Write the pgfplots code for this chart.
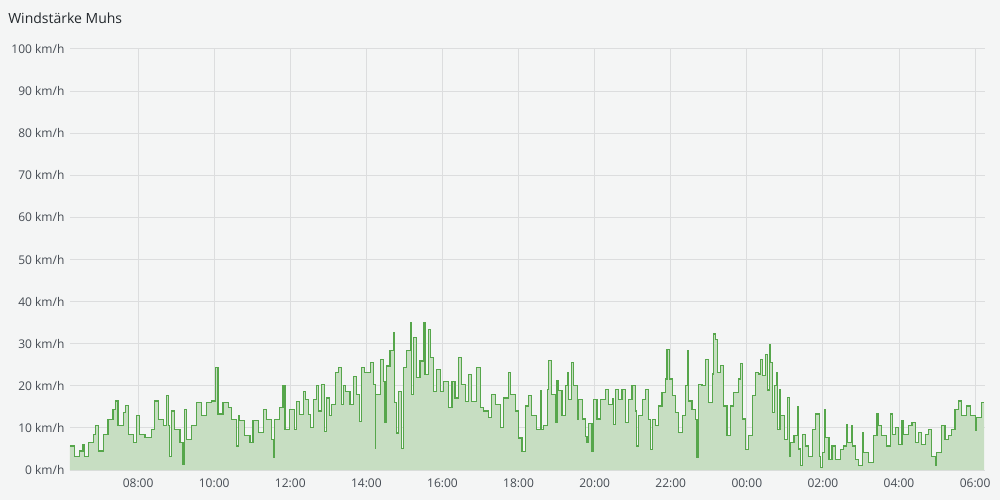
\documentclass[border=0pt]{standalone}
\usepackage{fontspec}
\setmainfont{Open Sans}
\usepackage{pgfplots}
\usepackage{pgfplotstable}
\pgfplotsset{compat=1.18}
\definecolor{bgcol}{HTML}{F4F5F5}
\definecolor{gridcol}{HTML}{DCDDDE}
\definecolor{linegreen}{HTML}{56A64B}
\definecolor{areagreen}{HTML}{C7DEC2}
\definecolor{tickcol}{HTML}{464C54}
\definecolor{titlecol}{HTML}{24292E}

% hours since midnight of day 1 (24 = 00:00 next day), wind in km/h
\pgfplotstableread{
h v
6.20 5.7
6.33 3.3
6.47 4.5
6.55 6
6.60 3.3
6.69 6.5
6.82 8.5
6.88 10.5
6.95 4.5
7.08 8.5
7.21 12
7.34 14.4
7.40 16.4
7.47 10.5
7.61 13.6
7.68 15.4
7.74 8.5
7.87 6.5
7.96 12.9
8.04 8.5
8.18 7.7
8.35 9.7
8.44 16.4
8.53 12
8.66 10.5
8.74 17.6
8.79 10.5
8.83 3.3
8.88 14
8.96 9.7
9.10 6.5
9.18 1.3
9.23 14.4
9.27 7.3
9.40 10.5
9.53 16
9.67 12.9
9.80 16
9.93 16.4
10.03 24.4
10.10 13.3
10.23 16
10.37 14.8
10.45 12
10.59 5.7
10.63 12.9
10.67 11.7
10.80 8.1
10.94 6.5
11.02 11.7
11.16 9
11.29 14.4
11.37 12
11.51 7.3
11.55 2.9
11.59 12
11.72 14.8
11.81 20
11.86 9.7
11.99 14.4
12.12 9.7
12.17 16.3
12.25 13.2
12.34 18.7
12.40 16.7
12.47 13.2
12.54 10
12.61 16.7
12.69 20
12.74 14
12.82 20.3
12.91 9.2
12.96 17.1
13.03 13
13.09 15.6
13.18 23.1
13.26 24.3
13.35 15.6
13.40 20
13.44 18.7
13.57 15.6
13.66 22.3
13.75 18
13.83 11.6
13.88 24.3
13.96 23.1
14.10 25.5
14.18 20.3
14.23 5.2
14.25 17.9
14.36 26.3
14.45 21.1
14.49 11.2
14.54 24.7
14.62 28.3
14.71 32.6
14.75 16
14.80 8.8
14.84 18.7
14.93 5.2
14.97 24.3
15.06 28.3
15.15 35
15.18 17.9
15.24 31.4
15.32 21.9
15.41 25.9
15.50 35
15.54 22.7
15.63 33.4
15.68 26.7
15.76 18.7
15.85 23.9
15.94 18.7
16.03 21.1
16.16 14.8
16.25 21.1
16.33 17.1
16.42 26.7
16.51 20.3
16.60 16.3
16.68 22.7
16.77 16.3
16.90 24.3
16.99 14.8
17.08 14
17.21 12.4
17.30 17.9
17.39 15.6
17.52 10
17.61 17.1
17.74 23.1
17.78 17.9
17.91 14
18.00 7.6
18.09 4.4
18.18 15.2
18.26 17.6
18.35 12.9
18.48 9.7
18.57 18.8
18.60 9.7
18.66 10.5
18.75 19.2
18.79 26
18.86 18
18.96 11.3
19.01 21.2
19.05 18.8
19.14 12.9
19.23 20
19.30 23.2
19.32 16.8
19.40 25.6
19.45 20
19.54 12
19.58 16.8
19.67 12.1
19.75 8
19.80 6.5
19.84 11
19.93 4.5
19.97 16.8
20.06 12.1
20.15 16.8
20.28 19.2
20.37 15.6
20.46 17
20.50 10.9
20.54 19.2
20.63 16.8
20.72 19.2
20.81 11.3
20.89 16.8
20.98 20
21.07 14
21.11 5.7
21.16 12.9
21.25 16.8
21.33 19.2
21.42 12
21.46 4.9
21.51 12
21.60 10.5
21.68 15.2
21.77 18.4
21.86 21.6
21.90 28.7
21.96 21.6
22.04 17.6
22.12 13.7
22.21 8.9
22.30 12.9
22.39 20
22.43 28.3
22.47 16.4
22.56 14.4
22.65 12
22.69 2.9
22.74 20.4
22.82 20
22.91 26.3
23.00 16
23.09 22.8
23.13 32.3
23.18 31.1
23.22 23.2
23.31 24.8
23.39 15.2
23.48 8.1
23.57 15.2
23.66 18.4
23.79 21.6
23.83 25.2
23.88 12.1
23.96 4.9
24.05 8.1
24.14 17.6
24.23 23.2
24.30 22.8
24.37 26.3
24.41 22.4
24.50 27.5
24.54 19
24.59 29.9
24.63 25.6
24.67 13.7
24.72 20
24.78 23.2
24.80 9.7
24.87 19.2
24.89 12.9
24.98 7.3
25.07 17.2
25.11 3.3
25.15 6.5
25.24 8.1
25.33 15.1
25.35 5
25.42 1
25.46 8.5
25.55 5.7
25.63 3.3
25.72 9.7
25.81 13.3
25.90 3.3
25.94 0.5
25.98 4.1
26.05 14.4
26.07 7.7
26.16 2.5
26.24 5.7
26.33 2.5
26.46 4.9
26.55 5.7
26.61 10.9
26.64 6.5
26.75 10.6
26.77 5.7
26.86 2.5
26.94 1
27.03 8.9
27.07 4.1
27.20 1.7
27.34 8.1
27.42 13.3
27.47 10.5
27.55 8.1
27.68 5.7
27.77 13.3
27.82 8.5
27.90 10.1
27.99 6
28.08 11.7
28.12 8.5
28.25 10.5
28.34 11.3
28.43 6.5
28.51 9
28.60 6
28.69 8.5
28.77 9.7
28.86 3.3
28.95 1
28.99 4.1
29.12 10.5
29.21 7.3
29.30 8.1
29.39 9.7
29.47 14.4
29.56 16.4
29.65 12.9
29.78 15.2
29.87 12.9
30.00 9.3
30.04 12.5
30.17 16
30.24 16
}\wind

\begin{document}
\begin{tikzpicture}
% 1px = 0.75pt, page is 1000x500 px
\fill[bgcol] (-52.5pt,-22.5pt) rectangle (697.5pt,352.5pt);
\useasboundingbox (-52.5pt,-22.5pt) rectangle (697.5pt,352.5pt);
\node[anchor=west, inner sep=0pt, text=titlecol, font=\fontsize{10.5}{12}\selectfont] at (-46.5pt,339pt) {Windstärke Muhs};
\begin{axis}[
    scale only axis,
    width=686.25pt, height=315.75pt,
    xmin=6.21, xmax=30.26,
    ymin=0, ymax=100,
    xtick={8,10,12,14,16,18,20,22,24,26,28,30},
    xticklabels={08:00,10:00,12:00,14:00,16:00,18:00,20:00,22:00,00:00,02:00,04:00,06:00},
    ytick={0,10,...,100},
    yticklabel={\pgfmathprintnumber{\tick} km/h},
    /pgf/number format/assume math mode=true,
    major tick length=0pt,
    axis line style={draw=none},
    grid=major,
    major grid style={gridcol, line width=0.75pt},
    tick label style={font=\fontsize{9}{10}\selectfont, text=tickcol},
    yticklabel style={inner sep=0pt, xshift=-4pt},
    xticklabel style={inner sep=0pt, yshift=-6.5pt},
]
\addplot[const plot, draw=none, fill=areagreen] table[x=h, y=v] {\wind} \closedcycle;
\addplot[const plot, draw=linegreen, line width=0.85pt] table[x=h, y=v] {\wind};
\end{axis}
\end{tikzpicture}
\end{document}
